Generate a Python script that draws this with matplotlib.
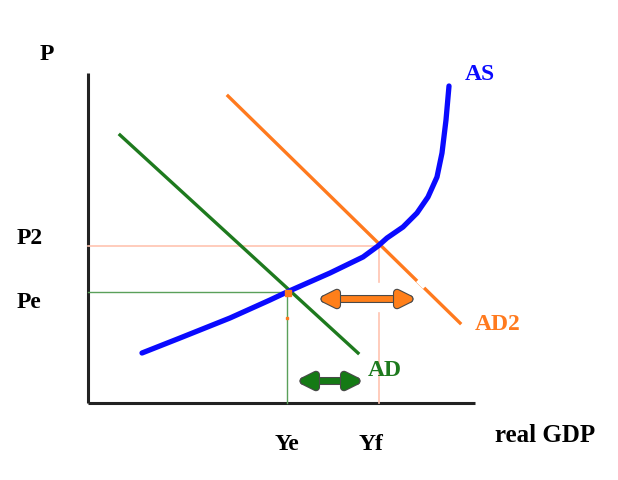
import matplotlib.pyplot as plt
import matplotlib.patheffects as pe
from matplotlib.patches import FancyArrowPatch

# chart units: x to the right of the P axis, y above the GDP axis
as_x = [54, 92, 142, 182, 199, 242, 275, 290, 299, 315, 329, 340, 349, 354, 358, 361]
as_y = [50, 65, 85, 103, 111, 130, 146, 157, 165, 176, 190, 206, 226, 250, 283, 317]

ad_x = [32, 270]
ad_y = [268, 50]

ad2_x = [140, 372]
ad2_y = [307, 80]

ye, yf = 199, 291
pe_lvl, p2_lvl = 111, 157

axis_top, axis_right = 330, 387

plt.rcParams['font.family'] = ['Liberation Serif', 'DejaVu Serif']

fig = plt.figure(figsize=(6.18, 4.8), dpi=100)
ax = fig.add_axes([0, 0, 1, 1])
ax.set_xlim(-88, 530)
ax.set_ylim(-77, 403)
ax.axis('off')

# axes
ax.plot([0, 0], [0, axis_top], color='#222222', lw=2.2, solid_capstyle='butt')
ax.plot([0, axis_right], [0, 0], color='#222222', lw=2.2, solid_capstyle='butt')

# guide lines
ax.plot([0, yf], [p2_lvl, p2_lvl], color='#ffc4b0', lw=1.2)
ax.plot([yf, yf], [p2_lvl, 121], color='#ffc4b0', lw=1.2)
ax.plot([yf, yf], [90, 0], color='#ffc4b0', lw=1.2)
ax.plot([0, ye], [pe_lvl, pe_lvl], color='#5aa05a', lw=1.0)
ax.plot([ye, ye], [pe_lvl, 0], color='#5aa05a', lw=1.0)

# curves
ax.plot(ad2_x, ad2_y, color='#ff7a1e', lw=2.4)
ax.plot([332, 335], [121, 118], color='white', lw=4)
ax.plot(ad_x, ad_y, color='#1e7a1e', lw=2.4)
ax.plot(as_x, as_y, color='#0a0aff', lw=3.8, solid_capstyle='round', solid_joinstyle='round')
ax.plot([ye + 1], [pe_lvl - 1], marker='s', ms=4, color='#ff7a1e')
ax.plot([ye], [85], marker='s', ms=1.5, color='#ff7a1e')

# shift arrows
for x0, x1, yy, c in [(230, 328, 104, '#ff7f1a'), (209, 275, 22, '#157a15')]:
    arr = FancyArrowPatch((x0, yy), (x1, yy), arrowstyle='<|-|>,head_length=0.9,head_width=0.45',
                          mutation_scale=10, lw=4.2, color=c, shrinkA=0, shrinkB=0,
                          path_effects=[pe.withStroke(linewidth=5.8, foreground='#4a4a4a')])
    ax.add_patch(arr)

# labels
kw = dict(fontsize=17, fontweight='bold', va='center')
ax.text(-48, 348, 'P', ha='left', **kw)
ax.text(-71, 165, 'P2', ha='left', **kw)
ax.text(-71, 101, 'Pe', ha='left', **kw)
ax.text(ye, -42, 'Ye', ha='center', **kw)
ax.text(yf - 8, -42, 'Yf', ha='center', **kw)
ax.text(407, -33, 'real GDP', ha='left', fontsize=18, fontweight='bold', va='center')
ax.text(377, 328, 'AS', ha='left', color='#0a0aff', **kw)
ax.text(280, 33, 'AD', ha='left', color='#1e7a1e', **kw)
ax.text(387, 78, 'AD2', ha='left', color='#ff7a1e', **kw)

plt.savefig('out.png', dpi=100)
